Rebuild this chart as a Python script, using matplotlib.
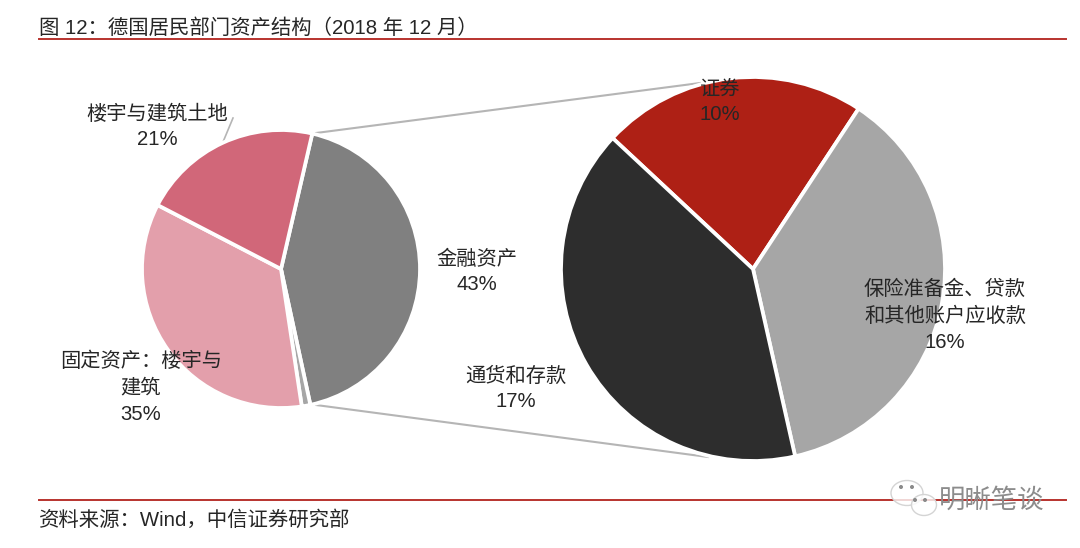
import numpy as np
import matplotlib
matplotlib.use("Agg")
import matplotlib.pyplot as plt
from matplotlib.patches import Circle, Ellipse

plt.rcParams['font.family'] = ['Liberation Sans', 'Noto Sans CJK SC', 'DejaVu Sans']

title = "图 12：德国居民部门资产结构（2018 年 12 月）"
source = "资料来源：Wind，中信证券研究部"
watermark = "明晰笔谈"

main_labels = ["金融资产\n43%", "", "固定资产：楼宇与\n建筑\n35%", "楼宇与建筑土地\n21%"]
main_values = [43, 1, 35, 21]
main_colors = ["#808080", "#a6a6a6", "#e39fab", "#d16779"]

sub_labels = ["证券\n10%", "保险准备金、贷款\n和其他账户应收款\n16%", "通货和存款\n17%"]
sub_values = [9.6, 16.0, 17.4]
sub_colors = ["#ae2015", "#a6a6a6", "#2d2d2d"]

W, H = 1080, 548
fig = plt.figure(figsize=(W / 100, H / 100), dpi=100, facecolor="white")
ax = fig.add_axes([0, 0, 1, 1])
Y = lambda py: H - py

wp = dict(edgecolor="white", linewidth=2.7)
ax.pie(main_values, colors=main_colors, center=(281, Y(269)), radius=139,
       startangle=77, counterclock=False, wedgeprops=wp, frame=True)
ax.pie(sub_values, colors=sub_colors, center=(753, Y(269)), radius=192,
       startangle=137, counterclock=False, wedgeprops=wp, frame=True)
ax.set_xlim(0, W)
ax.set_ylim(0, H)
ax.set_aspect("equal")
ax.axis("off")

# connectors and leader line
grey = "#b5b5b5"
ax.plot([316, 700], [Y(133), Y(83)], color=grey, lw=1.5, zorder=0.5)
ax.plot([316, 708], [Y(405), Y(457)], color=grey, lw=1.5, zorder=0.5)
ax.plot([223, 233], [Y(142), Y(118)], color=grey, lw=1.2, zorder=0.5)

# header and footer rules
red = "#b8332e"
ax.plot([39, 1066], [Y(39), Y(39)], color=red, lw=1.4)
ax.plot([39, 1066], [Y(500), Y(500)], color=red, lw=1.4)

tc = "#262626"
fs = 14.6
ax.text(39, Y(28), title, fontsize=14.7, color=tc, ha="left", va="center")
ax.text(39, Y(520), source, fontsize=14.7, color=tc, ha="left", va="center")

lab = dict(fontsize=fs, color=tc, ha="center", va="center", zorder=5)
ax.text(477, Y(272), main_labels[0], linespacing=1.42, **lab)
ax.text(141, Y(388), main_labels[2], linespacing=1.5, **lab)
ax.text(157, Y(127), main_labels[3], linespacing=1.36, **lab)
ax.text(720, Y(102), sub_labels[0], linespacing=1.36, **lab)
ax.text(945, Y(316), sub_labels[1], linespacing=1.5, **lab)
ax.text(516, Y(389), sub_labels[2], linespacing=1.42, **lab)

# watermark
for (cx, cy, w, h) in [(907, 493, 32, 25), (924, 505, 25, 21)]:
    ax.add_patch(Ellipse((cx, Y(cy)), w, h, facecolor=(1, 1, 1, 0.8), edgecolor="#d4d4d4", lw=1, zorder=6))
for (cx, cy) in [(901, 487), (912, 487), (915, 500), (925, 500)]:
    ax.add_patch(Circle((cx, Y(cy)), 1.3, color="#8a8a8a", zorder=7))
ax.text(992, Y(500), watermark, fontsize=19, color="#8c8c8c", ha="center", va="center", zorder=7)

fig.savefig("out.png", dpi=100, facecolor="white")
